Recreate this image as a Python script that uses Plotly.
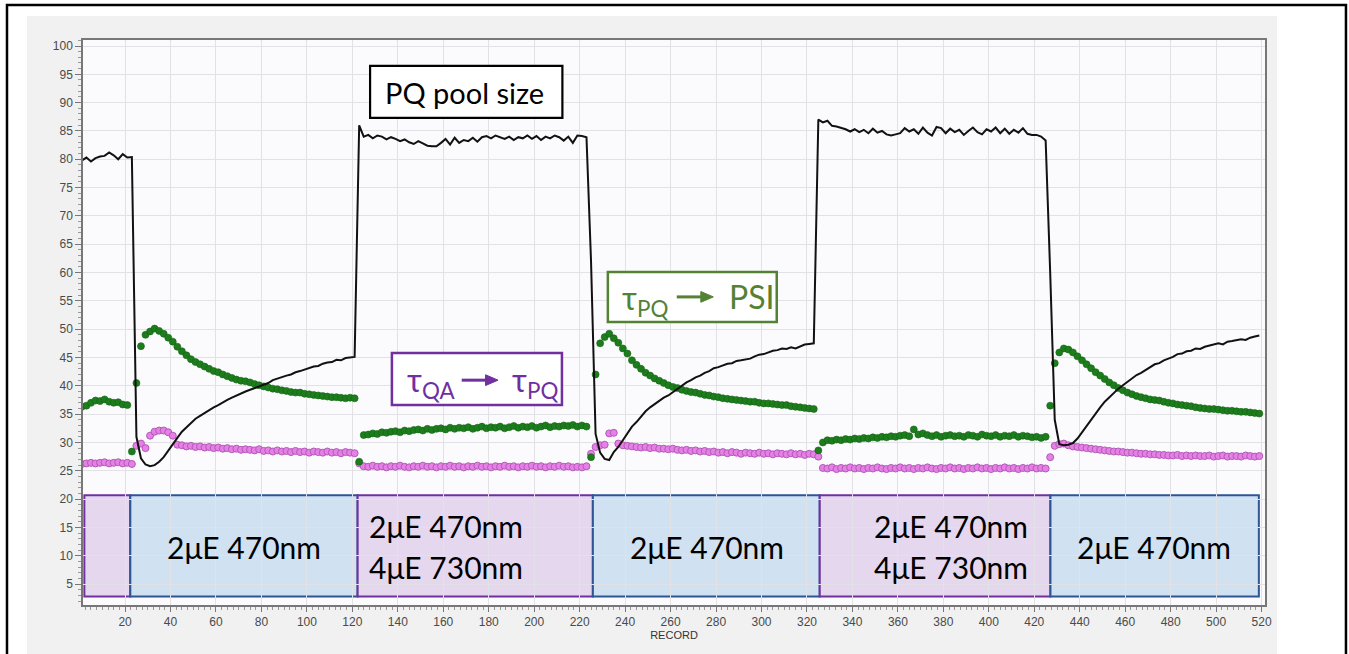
import plotly.graph_objects as go

# ---------------- data ----------------
records = list(range(1, 521, 2))

# black line: PQ pool size
pq_pool = [
    # r1..23
    79.8, 80.3, 79.6, 80.2, 80.5, 80.6, 81.2, 80.7, 80.0, 80.9, 80.3, 80.4,
    # r25..121
    31.0, 27.2, 26.1, 25.8, 26.0, 26.6, 27.4, 28.6, 29.8, 30.8,
    31.9, 32.7, 33.5, 34.2, 34.7, 35.2, 35.8, 36.2, 36.6, 37.1,
    37.5, 37.9, 38.3, 38.6, 39.0, 39.3, 39.6, 39.9, 40.3, 40.5,
    41.0, 41.3, 41.5, 41.8, 42.0, 42.4, 42.6, 42.9, 43.1, 43.4,
    43.5, 43.9, 44.1, 44.2, 44.6, 44.5, 44.9, 45.0, 45.1,
    # r123..223
    86.0, 84.0, 84.3, 83.7, 84.2, 84.0, 83.5, 83.9, 83.6, 83.2,
    83.5, 83.0, 82.7, 83.2, 82.8, 82.4, 82.3, 82.3, 82.9, 83.6,
    82.6, 83.8, 82.9, 83.4, 83.2, 83.8, 83.1, 83.9, 84.1, 83.7,
    84.2, 83.9, 83.6, 84.0, 83.4, 83.9, 83.7, 84.2, 83.6, 84.1,
    83.4, 84.0, 83.7, 84.2, 83.9, 83.3, 84.0, 82.9, 84.2, 84.1, 83.9,
    # r225..323
    62.0, 31.5, 28.2, 27.1, 26.9, 28.3, 29.2, 30.4, 31.6, 32.8,
    33.6, 34.6, 35.5, 36.2, 36.8, 37.4, 37.9, 38.3, 38.9, 39.4,
    40.1, 40.6, 41.0, 41.5, 41.8, 42.3, 42.6, 43.1, 43.3, 43.6,
    43.9, 44.0, 44.4, 44.5, 44.7, 44.8, 45.2, 45.5, 45.6, 45.9,
    46.2, 46.3, 46.6, 46.5, 46.8, 46.6, 47.0, 47.3, 47.4, 47.5,
    # r325..425
    87.0, 86.5, 86.8, 85.9, 85.8, 85.6, 85.3, 84.9, 85.3, 84.8,
    85.2, 84.6, 85.4, 84.7, 85.0, 84.4, 84.2, 84.4, 84.6, 85.5,
    84.9, 85.3, 84.5, 85.6, 84.7, 84.2, 85.7, 85.5, 84.6, 85.4,
    84.8, 85.2, 84.3, 85.0, 85.6, 84.8, 84.4, 85.3, 84.9, 85.6,
    84.6, 85.4, 84.5, 85.2, 84.7, 85.5, 84.5, 84.3, 84.3, 84.0, 83.3,
    # r427..519
    60.0, 34.0, 29.7, 29.5, 29.6, 29.9, 30.7, 31.8, 33.0, 34.2,
    35.2, 36.2, 37.2, 38.0, 38.8, 39.5, 40.1, 40.7, 41.3, 41.9,
    42.3, 42.8, 43.2, 43.8, 44.0, 44.5, 44.8, 45.1, 45.6, 45.7,
    46.1, 46.2, 46.6, 46.5, 46.9, 47.1, 47.3, 47.5, 47.3, 47.8,
    47.9, 48.0, 48.2, 48.1, 48.5, 48.7, 48.9,
]

# green markers: tau PQ -> PSI
tau_pq_psi = [
    # r1..23
    36.3, 36.5, 37.0, 37.4, 37.3, 37.6, 37.2, 37.0, 37.1, 36.7, 36.6, 28.4,
    # r25..121
    40.5, 47.0, 49.0, 49.6, 50.1, 49.7, 49.2, 48.5, 47.8, 46.9,
    46.1, 45.4, 44.7, 44.2, 43.8, 43.4, 43.0, 42.6, 42.4, 42.0,
    41.7, 41.4, 41.1, 40.9, 40.8, 40.6, 40.3, 40.1, 39.9, 39.7,
    39.5, 39.4, 39.2, 39.1, 38.9, 38.8, 38.8, 38.6, 38.5, 38.4,
    38.3, 38.2, 38.1, 38.0, 38.0, 37.9, 37.8, 37.9, 37.8,
    # r123..223
    26.6, 31.3, 31.4, 31.6, 31.5, 31.8, 31.7, 31.9, 32.0, 31.8,
    32.1, 32.0, 32.2, 32.3, 32.1, 32.4, 32.2, 32.4, 32.5, 32.3,
    32.6, 32.4, 32.6, 32.5, 32.7, 32.4, 32.6, 32.8, 32.5, 32.7,
    32.6, 32.8, 32.5, 32.7, 32.9, 32.6, 32.8, 32.7, 32.9, 32.6,
    32.8, 33.0, 32.7, 32.9, 32.8, 33.0, 32.9, 33.1, 32.8, 33.0, 32.8,
    # r225..323
    27.4, 42.0, 47.5, 48.6, 49.2, 48.4, 47.6, 46.6, 45.7, 44.5,
    43.7, 43.0, 42.3, 41.8, 41.3, 40.9, 40.5, 40.1, 39.8, 39.6,
    39.3, 39.1, 38.9, 38.8, 38.6, 38.4, 38.3, 38.1, 38.0, 37.8,
    37.7, 37.6, 37.5, 37.4, 37.3, 37.2, 37.2, 37.0, 36.9, 36.9,
    36.8, 36.7, 36.6, 36.6, 36.4, 36.3, 36.2, 36.1, 36.0, 35.9,
    # r325..425
    28.6, 30.0, 30.4, 30.3, 30.5, 30.4, 30.6, 30.5, 30.7, 30.6,
    30.8, 30.7, 30.9, 30.8, 31.0, 30.9, 31.1, 31.0, 31.2, 31.3,
    31.1, 32.3, 31.4, 31.6, 31.3, 31.1, 31.3, 31.0, 31.2, 31.3,
    31.1, 31.2, 31.0, 31.3, 31.2, 31.0, 31.4, 31.2, 31.1, 31.3,
    31.0, 31.2, 31.1, 31.3, 31.0, 31.2, 31.1, 30.9, 31.0, 30.8, 31.0,
    # r427..519
    36.5, 44.0, 45.9, 46.6, 46.4, 45.9, 45.2, 44.5, 43.8, 43.1,
    42.4, 41.8, 41.2, 40.6, 40.1, 39.6, 39.2, 38.8, 38.5, 38.2,
    38.0, 37.8, 37.6, 37.5, 37.4, 37.2, 37.0, 36.9, 36.7, 36.6,
    36.5, 36.4, 36.2, 36.1, 36.0, 35.9, 35.9, 35.8, 35.7, 35.6,
    35.6, 35.5, 35.4, 35.4, 35.3, 35.2, 35.1,
]

# pink markers: tau QA -> tau PQ
tau_qa = [
    # r1..23
    26.2, 26.3, 26.4, 26.3, 26.4, 26.5, 26.3, 26.4, 26.5, 26.3, 26.4, 26.2,
    # r25..121
    29.4, 29.8, 29.0, 31.2, 31.9, 32.1, 32.1, 31.8, 31.2, 29.6,
    29.5, 29.3, 29.4, 29.2, 29.3, 29.1, 29.2, 29.0, 29.1, 28.9,
    29.0, 28.8, 28.9, 28.7, 28.8, 28.7, 28.6, 28.8, 28.5, 28.6,
    28.4, 28.6, 28.4, 28.5, 28.3, 28.5, 28.3, 28.4, 28.2, 28.4,
    28.3, 28.2, 28.4, 28.2, 28.3, 28.1, 28.3, 28.2, 28.1,
    # r123..223
    26.3, 25.8, 25.7, 25.9, 25.7, 25.8, 25.6, 25.8, 25.7, 25.9,
    25.7, 25.6, 25.8, 25.7, 25.9, 25.7, 25.8, 25.6, 25.8, 25.7,
    25.9, 25.7, 25.8, 25.6, 25.8, 25.7, 25.9, 25.7, 25.8, 25.6,
    25.8, 25.7, 25.9, 25.7, 25.8, 25.6, 25.8, 25.7, 25.9, 25.7,
    25.8, 25.6, 25.8, 25.7, 25.9, 25.7, 25.8, 25.6, 25.7, 25.6, 25.8,
    # r225..323
    28.0, 29.2, 29.5, 29.6, 31.6, 31.7, 29.8, 29.5, 29.4, 29.3,
    29.2, 29.1, 29.2, 29.0, 29.1, 28.9, 28.9, 28.8, 28.9, 28.7,
    28.6, 28.7, 28.5, 28.6, 28.4, 28.5, 28.3, 28.4, 28.2, 28.3,
    28.1, 28.3, 28.2, 28.0, 28.2, 28.1, 28.0, 28.2, 28.0, 28.1,
    27.9, 28.1, 28.0, 27.9, 28.1, 27.9, 28.0, 27.8, 28.0, 27.9,
    # r325..425
    27.5, 25.5, 25.4, 25.6, 25.3, 25.5, 25.4, 25.6, 25.4, 25.5,
    25.3, 25.5, 25.4, 25.6, 25.4, 25.3, 25.5, 25.4, 25.6, 25.4,
    25.5, 25.3, 25.5, 25.4, 25.6, 25.4, 25.3, 25.5, 25.4, 25.6,
    25.4, 25.5, 25.3, 25.5, 25.4, 25.6, 25.4, 25.5, 25.3, 25.5,
    25.4, 25.6, 25.4, 25.5, 25.3, 25.5, 25.4, 25.6, 25.4, 25.5, 25.4,
    # r427..519
    27.4, 29.4, 29.7, 29.8, 29.5, 29.3, 29.2, 29.1, 29.0, 28.9,
    28.8, 28.7, 28.6, 28.5, 28.4, 28.4, 28.3, 28.2, 28.2, 28.1,
    28.0, 28.0, 27.9, 27.9, 27.8, 27.8, 27.7, 27.7, 27.8, 27.6,
    27.7, 27.6, 27.7, 27.6, 27.6, 27.7, 27.5, 27.6, 27.7, 27.5,
    27.6, 27.6, 27.5, 27.7, 27.6, 27.5, 27.6,
]

# light phases (record ranges) and their labels
phase_start = [2.1, 22.3, 122.3, 225.8, 325.6, 427.1]
phase_end = [22.3, 122.3, 225.8, 325.6, 427.1, 518.8]
phase_kind = ["mix", "blue", "mix", "blue", "mix", "blue"]
label_blue = "2μE 470nm"
label_mix_1 = "2μE 470nm"
label_mix_2 = "4μE 730nm"

x_ticks = list(range(20, 521, 20))
y_ticks = list(range(5, 101, 5))

# ---------------- figure ----------------
PURPLE = "#7030A0"
GREEN = "#548235"
BOXFONT = "Lato, 'Noto Sans', sans-serif"

fig = go.Figure()

fig.add_trace(go.Scatter(
    x=records, y=tau_qa, mode="markers",
    marker=dict(size=7, color="#e67fe6", line=dict(width=1, color="#b25ab8")),
    hoverinfo="skip"))
fig.add_trace(go.Scatter(
    x=records, y=tau_pq_psi, mode="markers",
    marker=dict(size=7, color="#1d7d1d", line=dict(width=0.6, color="#136313")),
    hoverinfo="skip"))
fig.add_trace(go.Scatter(
    x=records, y=pq_pool, mode="lines",
    line=dict(color="#111111", width=2),
    hoverinfo="skip"))

shapes = []
# outside-panel white strips and outer frame (paper coords)
for x0, x1, y0, y1 in [(-0.2, -0.0474, -0.3, 1.3), (-0.2, 1.3, 1.0425, 1.3), (1.0102, 1.3, -0.3, 1.3)]:
    shapes.append(dict(type="rect", xref="paper", yref="paper", x0=x0, x1=x1, y0=y0, y1=y1,
                       fillcolor="white", line=dict(width=0), layer="below"))
shapes.append(dict(type="rect", xref="paper", yref="paper", x0=-0.0643, x1=1.0685, y0=-0.3, y1=1.0619,
                   fillcolor="rgba(0,0,0,0)", line=dict(color="black", width=2.5), layer="below"))

# light phase boxes
for s, e, k in zip(phase_start, phase_end, phase_kind):
    if k == "blue":
        fill, col = "rgba(200,220,240,0.85)", "#2F5597"
    else:
        fill, col = "rgba(225,208,235,0.85)", PURPLE
    shapes.append(dict(type="rect", xref="x", yref="y", x0=s, x1=e, y0=2.8, y1=20.7,
                       fillcolor=fill, line=dict(color=col, width=2), layer="below"))

# annotation boxes
shapes.append(dict(type="rect", xref="x", yref="y", x0=127.8, x1=212.4, y0=87.3, y1=96.5,
                   fillcolor="white", line=dict(color="black", width=2.2), layer="above"))
shapes.append(dict(type="rect", xref="x", yref="y", x0=137.4, x1=212.2, y0=36.6, y1=45.8,
                   fillcolor="white", line=dict(color=PURPLE, width=2.5), layer="above"))
shapes.append(dict(type="rect", xref="x", yref="y", x0=232.4, x1=306.7, y0=51.25, y1=60.1,
                   fillcolor="white", line=dict(color=GREEN, width=2.5), layer="above"))

# arrows inside the annotation boxes (line + filled head)
for (xa, xb, yy, col) in [(168.1, 184.1, 41.0, PURPLE), (262.7, 278.8, 55.7, GREEN)]:
    shapes.append(dict(type="line", xref="x", yref="y", x0=xa, x1=xb - 4.0, y0=yy, y1=yy,
                       line=dict(color=col, width=3), layer="above"))
    shapes.append(dict(type="path", xref="x", yref="y",
                       path=f"M {xb-5.5},{yy+0.95} L {xb},{yy} L {xb-5.5},{yy-0.95} Z",
                       fillcolor=col, line=dict(color=col, width=1), layer="above"))

ann = []
bf = dict(family=BOXFONT, size=30, color="black")
ann.append(dict(x=72.3, y=11.5, text=label_blue, xanchor="center", font=bf))
ann.append(dict(x=126.6, y=15.2, text=label_mix_1, xanchor="left", font=bf))
ann.append(dict(x=126.6, y=7.95, text=label_mix_2, xanchor="left", font=bf))
ann.append(dict(x=275.9, y=11.5, text=label_blue, xanchor="center", font=bf))
ann.append(dict(x=418.0, y=15.2, text=label_mix_1, xanchor="right", font=bf))
ann.append(dict(x=418.0, y=7.95, text=label_mix_2, xanchor="right", font=bf))
ann.append(dict(x=472.7, y=11.5, text=label_blue, xanchor="center", font=bf))

ann.append(dict(x=133.6, y=91.8, text="PQ pool size", xanchor="left",
                font=dict(family=BOXFONT, size=29, color="black")))

tf_p = dict(family=BOXFONT, size=32, color=PURPLE)
tf_g = dict(family=BOXFONT, size=32, color=GREEN)
ann.append(dict(x=143.2, y=40.6, text="τ<sub>QA</sub>", xanchor="left", font=tf_p))
ann.append(dict(x=189.4, y=40.6, text="τ<sub>PQ</sub>", xanchor="left", font=tf_p))
ann.append(dict(x=237.7, y=55.2, text="τ<sub>PQ</sub>", xanchor="left", font=tf_g))
ann.append(dict(x=284.7, y=55.8, text="PSI", xanchor="left", font=tf_g))
for a in ann:
    a.setdefault("showarrow", False)
    a.setdefault("xref", "x")
    a.setdefault("yref", "y")

tickfont = dict(family="Arial, 'Liberation Sans', sans-serif", size=12, color="#4a4a4a")

fig.update_layout(
    width=1349, height=654,
    margin=dict(l=83, r=84, t=40, b=49),
    paper_bgcolor="#f1f1f1",
    plot_bgcolor="#fbfbfd",
    showlegend=False,
    shapes=shapes,
    annotations=ann,
    xaxis=dict(
        range=[1.5, 521.5], tickmode="array", tickvals=x_ticks,
        ticktext=[str(v) for v in x_ticks],
        showgrid=True, gridcolor="#e2e2e6", gridwidth=1, zeroline=False,
        ticks="outside", ticklen=5, tickcolor="#777", tickfont=tickfont,
        showline=True, linecolor="#777", linewidth=1.5, mirror=True,
        minor=dict(dtick=2.5, tick0=0, ticks="outside", ticklen=3, tickcolor="#999", showgrid=False),
        title=dict(text="RECORD", font=dict(family="Arial, 'Liberation Sans', sans-serif", size=11, color="#333"),
                   standoff=3),
    ),
    yaxis=dict(
        range=[1.3, 101.06], tickmode="array", tickvals=y_ticks,
        ticktext=[str(v) for v in y_ticks],
        showgrid=True, gridcolor="#e2e2e6", gridwidth=1, zeroline=False,
        ticks="outside", ticklen=6, tickcolor="#777", tickfont=tickfont,
        showline=True, linecolor="#777", linewidth=1.5, mirror=True,
        minor=dict(dtick=1, tick0=0, ticks="outside", ticklen=3, tickcolor="#999", showgrid=False),
    ),
)

fig.write_html("out.html", config={"displayModeBar": False},
               post_script="document.body.style.margin='0';document.body.style.overflow='hidden';")
